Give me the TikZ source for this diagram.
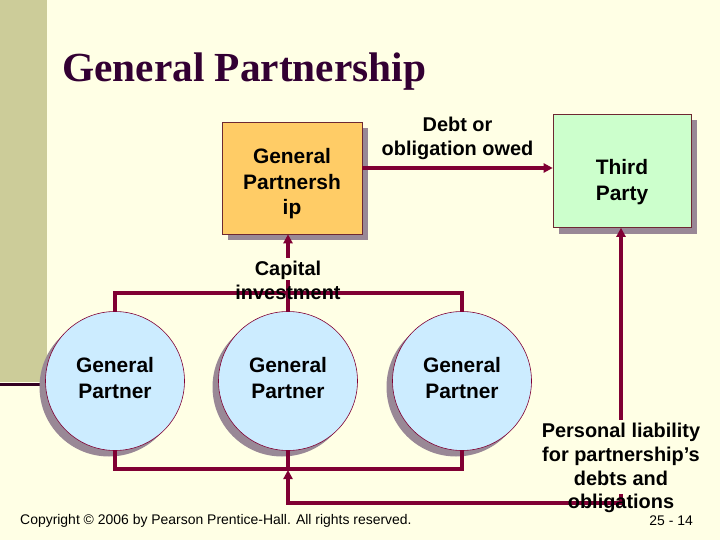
\documentclass[tikz,border=0pt]{standalone}
\usepackage{fontspec}
\setmainfont{Liberation Sans}
\newfontfamily\titlefont{Liberation Serif}
\usepackage{xcolor}
\usepackage{tikz}
\usetikzlibrary{arrows.meta,shadows,backgrounds}

\definecolor{bgc}{RGB}{255,255,229}
\definecolor{bandc}{RGB}{204,204,153}
\definecolor{darkln}{RGB}{51,0,34}
\definecolor{titlec}{RGB}{51,0,51}
\definecolor{arrc}{RGB}{128,0,51}
\definecolor{edgec}{RGB}{110,40,50}
\definecolor{gpfill}{RGB}{255,204,102}
\definecolor{tpfill}{RGB}{204,255,204}
\definecolor{circfill}{RGB}{204,236,255}
\definecolor{shadc}{RGB}{153,136,150}

\begin{document}
\begin{tikzpicture}[x=1bp, y=-1bp, >={Triangle[length=9bp,width=9bp]}]
  \tikzstyle{obox}=[rectangle, draw=edgec, line width=0.6bp, fill=gpfill,
                    minimum width=140bp, minimum height=112bp, inner sep=0pt,
                    align=center, font=\bfseries\fontsize{21}{26}\selectfont,
                    drop shadow={shadow xshift=6bp, shadow yshift=-6bp, fill=shadc, opacity=1}]
  \tikzstyle{gbox}=[obox, fill=tpfill, minimum width=138bp, minimum height=113bp]
  \tikzstyle{pcirc}=[circle, draw=arrc, line width=0.6bp, fill=circfill,
                     minimum size=139bp, inner sep=0pt,
                     align=center, font=\bfseries\fontsize{21}{26}\selectfont,
                     text height=37bp, text depth=1.8bp,
                     drop shadow={shadow xshift=-6bp, shadow yshift=-6bp, fill=shadc, opacity=1}]
  \tikzstyle{lbl}=[align=center, inner sep=3bp, font=\bfseries\fontsize{20}{24}\selectfont]
  \tikzstyle{note}=[inner sep=0pt, font=\fontsize{14}{16}\selectfont]
  \tikzstyle{bus}=[draw=arrc, line width=3.5bp]
  \tikzstyle{arr}=[->, draw=arrc, line width=3.5bp]

  \useasboundingbox (0,0) rectangle (720,540);

  % slide background
  \begin{scope}[on background layer]
    \fill[bgc] (0,0) rectangle (720,540);
    \fill[bandc] (0,0) rectangle (47,382);
    \draw[darkln, line width=3bp] (0,384.5) -- (46,384.5);
  \end{scope}

  \node[anchor=base west, inner sep=0pt, text=titlec,
        font=\titlefont\bfseries\fontsize{41.5}{48}\selectfont] at (62,82) (title) {General Partnership};

  \node[obox, text height=78bp, text depth=4bp] at (292,178) (gp)    {General\\Partnersh\\ip};
  \node[gbox, text height=63.5bp, text depth=4.3bp] at (622,171) (third) {Third\\Party};

  \node[pcirc] at (115,381) (p1) {General\\Partner};
  \node[pcirc] at (288,381) (p2) {General\\Partner};
  \node[pcirc] at (462,381) (p3) {General\\Partner};

  \node[lbl] at (288,280) (cap)  {Capital\\investment};
  \node[lbl] at (621,468) (liab) {Personal liability\\for partnership’s\\debts and\\obligations};

  \node[note, anchor=west] at (20,521)  (copy) {Copyright © 2006 by Pearson Prentice-Hall. All rights reserved.};
  \node[note, anchor=east] at (693,521) (page) {25 - 14};

  % lines that run under the labels
  \coordinate (lj) at (621,494);
  \coordinate (bj) at (288,470);
  \begin{scope}[on background layer]
    \draw[bus] (p1.north) -- ++(0,-18) -| (p3.north);
    \draw[bus] (p2.north) -- (cap.center);
    \draw[arr] (lj) -- ++(0,9) -| (bj);
  \end{scope}

  \draw[bus] (p1.south) -- ++(0,18) -| (p3.south);
  \draw[bus] (p2.south) -- ++(0,18);

  \draw[arr] ([yshift=3bp]gp.east |- third.west) --
             node[lbl, above=4bp]{Debt or\\obligation owed} ([yshift=3bp]third.west);
  \draw[arr] (cap.north)  -- (cap.north |- gp.south);
  \draw[arr] (liab.north) -- (liab.north |- third.south);
\end{tikzpicture}
\end{document}
